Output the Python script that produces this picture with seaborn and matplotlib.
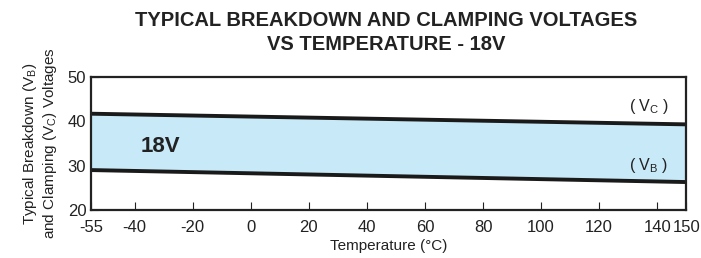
import matplotlib
matplotlib.use("Agg")
import matplotlib.pyplot as plt
import seaborn as sns
import pandas as pd

# data
temperature = [-55, 150]
v_clamp = [41.7, 39.3]
v_breakdown = [29.0, 26.3]
x_ticks = [-55, -40, -20, 0, 20, 40, 60, 80, 100, 120, 140, 150]
y_ticks = [20, 30, 40, 50]

sns.set_theme(style="ticks")
plt.rcParams['font.family'] = ['Liberation Sans', 'DejaVu Sans']
plt.rcParams['mathtext.fontset'] = 'custom'
plt.rcParams['mathtext.rm'] = 'Liberation Sans'
plt.rcParams['axes.unicode_minus'] = False

df = pd.DataFrame({"temp": temperature, "vc": v_clamp, "vb": v_breakdown})

fig = plt.figure(figsize=(7.01, 2.58), dpi=100)
ax = fig.add_axes([0.130, 0.186, 0.849, 0.516])

ax.fill_between(df["temp"], df["vb"], df["vc"], color="#c7e9f8", lw=0)
sns.lineplot(data=df, x="temp", y="vc", ax=ax, color="#1a1a1a", lw=2.8)
sns.lineplot(data=df, x="temp", y="vb", ax=ax, color="#1a1a1a", lw=2.8)

ax.set_xlim(-55, 150)
ax.set_ylim(20, 50)
ax.set_xticks(x_ticks)
ax.set_yticks(y_ticks)
ax.tick_params(direction="in", length=6, width=0.8, colors="#222222",
               labelsize=12, labelcolor="#222222")
ax.tick_params(axis="x", pad=7)
for s in ax.spines.values():
    s.set_linewidth(1.6)
    s.set_color("#222222")

ax.set_xlabel("Temperature (°C)", fontsize=11, color="#222222", labelpad=3)
ax.set_ylabel("Typical Breakdown (V$_\\mathregular{B}$)\nand Clamping (V$_\\mathregular{C}$) Voltages",
              fontsize=11, color="#222222", labelpad=6, linespacing=1.15)

ax.text(-38, 34.3, "18V", fontsize=16, fontweight="bold", color="#222222",
        ha="left", va="center")
ax.text(137, 43.3, "( V$_\\mathregular{C}$ )", fontsize=11.5, color="#222222",
        ha="center", va="center")
ax.text(137, 30.0, "( V$_\\mathregular{B}$ )", fontsize=11.5, color="#222222",
        ha="center", va="center")

fig.text(0.551, 0.874, "TYPICAL BREAKDOWN AND CLAMPING VOLTAGES\nVS TEMPERATURE - 18V",
         ha="center", va="center", fontsize=14.5, fontweight="bold",
         color="#222222", linespacing=1.3)

fig.savefig("out.png", dpi=100)
